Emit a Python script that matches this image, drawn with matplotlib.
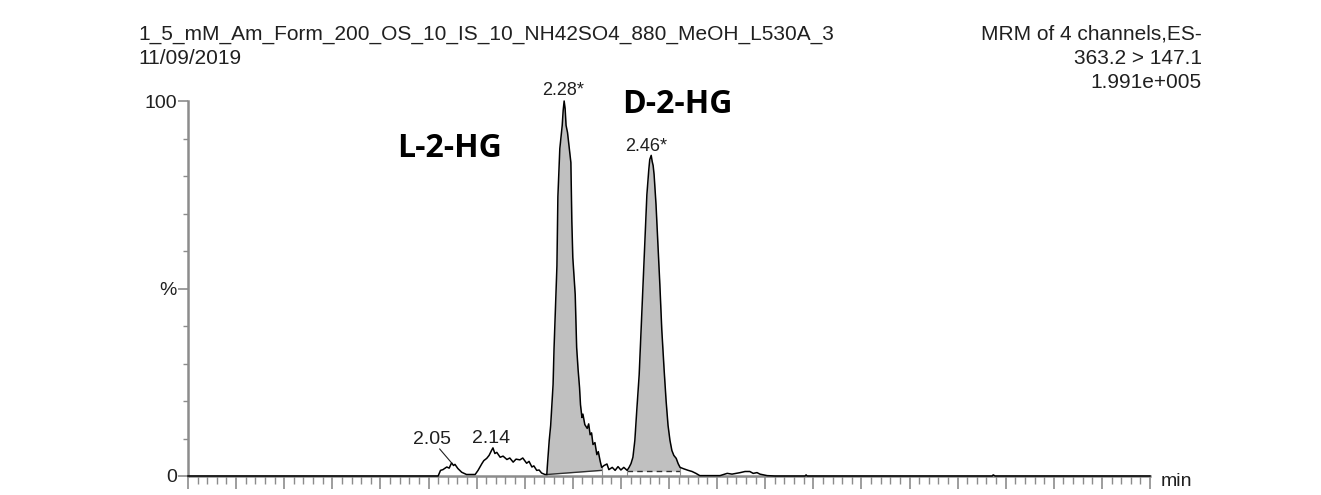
import numpy as np
import matplotlib
matplotlib.use("Agg")
import matplotlib.pyplot as plt
from matplotlib.ticker import MultipleLocator

# ---- data (time in min, intensity in %) ----
time_min = [1.500, 2.020, 2.025, 2.030, 2.038, 2.043, 2.048, 2.052, 2.055, 2.061, 2.069, 2.079,
            2.097, 2.103, 2.111, 2.115, 2.121, 2.126, 2.131, 2.134, 2.138, 2.142, 2.149, 2.155,
            2.163, 2.169, 2.176, 2.182, 2.190, 2.196, 2.204, 2.209, 2.215, 2.219, 2.225, 2.230,
            2.235, 2.242, 2.246,
            2.247, 2.251, 2.254, 2.259, 2.261, 2.265, 2.267, 2.269, 2.273, 2.278, 2.280, 2.282,
            2.284, 2.286, 2.289, 2.292, 2.296, 2.298, 2.300, 2.305, 2.308, 2.311, 2.314, 2.316,
            2.319, 2.321, 2.325, 2.330, 2.333, 2.336, 2.339, 2.342, 2.346, 2.350, 2.353, 2.357,
            2.360, 2.365, 2.371, 2.375, 2.382, 2.388, 2.394, 2.400, 2.406, 2.413, 2.417, 2.421,
            2.425, 2.429, 2.433, 2.438, 2.442, 2.446, 2.450, 2.454, 2.458, 2.460, 2.463, 2.465,
            2.467, 2.469, 2.473, 2.477, 2.481, 2.485, 2.490, 2.494, 2.498, 2.502, 2.506, 2.510,
            2.515, 2.519, 2.523, 2.531, 2.540, 2.548, 2.556, 2.564, 2.606, 2.621, 2.631, 2.648,
            2.658, 2.668, 2.675, 2.683, 2.689, 2.704, 2.720, 2.783, 2.785, 2.787, 3.172, 3.174,
            3.178, 3.500]
intensity_pct = [0.0, 0.0, 1.5, 1.7, 2.4, 2.1, 3.5, 2.8, 3.1, 2.0, 1.0, 0.4,
                 0.4, 1.5, 3.3, 4.1, 4.7, 5.5, 6.8, 7.5, 6.0, 6.3, 5.0, 5.3,
                 4.4, 4.8, 3.7, 4.5, 4.3, 4.8, 3.4, 3.9, 2.4, 2.7, 1.5, 1.6,
                 0.8, 0.4, 0.4,
                 2.5, 9.5, 13.5, 24.4, 34.0, 48.4, 56.0, 74.5, 87.3, 93.5, 97.5, 100.0,
                 98.0, 93.5, 91.6, 88.1, 83.6, 67.9, 58.3, 48.4, 34.3, 28.4, 23.6, 19.0,
                 15.6, 16.5, 13.7, 12.7, 13.9, 11.0, 11.5, 8.4, 8.9, 5.7, 6.5, 3.9,
                 2.3, 2.8, 3.2, 1.7, 2.3, 1.5, 2.5, 1.6, 2.3, 1.5, 2.3, 3.3,
                 5.0, 9.5, 17.5, 27.0, 39.0, 51.0, 63.0, 75.0, 81.7, 84.4, 85.5, 83.9,
                 82.8, 80.4, 72.4, 61.7, 51.0, 39.0, 28.0, 20.0, 13.5, 9.5, 6.8, 5.5,
                 4.7, 3.3, 2.3, 1.9, 1.5, 1.2, 0.7, 0.1, 0.1, 0.7, 0.5, 0.9,
                 1.2, 1.2, 0.7, 0.9, 0.5, 0.1, 0.0, 0.0, 0.3, 0.0, 0.0, 0.3,
                 0.0, 0.0]

# integrated peaks: start/end time and baseline level (%)
peak_start = [2.246, 2.413]
peak_end = [2.360, 2.523]
peak_base_start = [0.4, 1.3]
peak_base_end = [1.5, 1.3]

# peak labels: (text, time, intensity)
label_text = ["2.05", "2.14", "2.28*", "2.46*"]
label_time = [2.048, 2.134, 2.282, 2.463]
label_int = [3.5, 7.5, 100.0, 85.5]

header_left = ["1_5_mM_Am_Form_200_OS_10_IS_10_NH42SO4_880_MeOH_L530A_3", "11/09/2019"]
header_right = ["MRM of 4 channels,ES-", "363.2 > 147.1", "1.991e+005"]

# ---------------------------------------------------------------------
W, H = 1321, 495
fig = plt.figure(figsize=(W / 100, H / 100), dpi=100)
fig.patch.set_facecolor("white")

def fx(px):
    return px / W

def fy(py):
    return 1 - py / H

small_font = "Liberation Sans"
big_font = "Open Sans"
txt_col = "#202020"

ax = fig.add_axes([fx(188), fy(476), (1150 - 188) / W, (476 - 101) / H])
ax.set_xlim(1.5, 3.5)
ax.set_ylim(0, 100)

t = np.array(time_min)
y = np.array(intensity_pct)

# filled integrated peaks
for s, e, b0, b1 in zip(peak_start, peak_end, peak_base_start, peak_base_end):
    m = (t >= s) & (t <= e)
    base = np.interp(t[m], [s, e], [b0, b1])
    ax.fill_between(t[m], base, y[m], color="#c0c0c0", linewidth=0, zorder=1)
for i, (s, e, b0, b1) in enumerate(zip(peak_start, peak_end, peak_base_start, peak_base_end)):
    ls = "-" if i == 0 else (0, (4, 3))
    ax.plot([s, e], [b0, b1], color="#303030", lw=1.0, ls=ls, zorder=2, clip_on=False)
    ax.plot([s, s], [0, np.interp(s, t, y)], color="#909090", lw=0.8, zorder=2)
    ax.plot([e, e], [0, np.interp(e, t, y)], color="#909090", lw=0.8, zorder=2)

ax.plot(t, y, color="black", lw=1.1, zorder=3, clip_on=False)

# spines and ticks
for side in ["top", "right"]:
    ax.spines[side].set_visible(False)
for side in ["left", "bottom"]:
    ax.spines[side].set_color("#8c8c8c")
    ax.spines[side].set_linewidth(1.8)

ax.xaxis.set_major_locator(MultipleLocator(0.1))
ax.xaxis.set_minor_locator(MultipleLocator(0.02))
ax.tick_params(axis="x", which="major", direction="out", length=9, width=1.2,
               color="#8c8c8c", labelbottom=False)
ax.tick_params(axis="x", which="minor", direction="out", length=5.5, width=1.0,
               color="#8c8c8c")
ax.set_yticks([0, 50, 100])
ax.set_yticklabels(["0", "%", "100"], fontsize=14, family=small_font, color=txt_col)
ax.yaxis.set_minor_locator(MultipleLocator(10))
ax.tick_params(axis="y", which="major", direction="out", length=7, width=1.2,
               color="#8c8c8c", pad=1)
ax.tick_params(axis="y", which="minor", direction="out", length=3.5, width=1.0,
               color="#8c8c8c")

# peak labels (offsets in pixels from the apex)
lbl_offsets = {"2.05": (-20, 19), "2.14": (-1.5, 5), "2.28*": (-1.5, 6), "2.46*": (-5.5, 4)}
lbl_sizes = {"2.05": 14, "2.14": 14, "2.28*": 13, "2.46*": 13}
for txt, tt, ii in zip(label_text, label_time, label_int):
    dx, dy = lbl_offsets[txt]
    ax.annotate(txt, xy=(tt, ii), xytext=(dx, dy), textcoords="offset pixels",
                ha="center", va="baseline", fontsize=lbl_sizes[txt], family=small_font,
                color=txt_col, annotation_clip=False)
# leader line for 2.05
ax.annotate("", xy=(label_time[0], label_int[0]), xytext=(-12, 14),
            textcoords="offset pixels",
            arrowprops=dict(arrowstyle="-", color=txt_col, lw=0.8,
                            shrinkA=0, shrinkB=0))

# compound labels
fig.text(fx(397), fy(157), "L-2-HG", fontsize=23, fontweight="bold",
         family=big_font, ha="left", va="baseline")
fig.text(fx(622), fy(113), "D-2-HG", fontsize=23, fontweight="bold",
         family=big_font, ha="left", va="baseline")

# headers
for i, s in enumerate(header_left):
    fig.text(fx(138), fy(40 + 24 * i), s, fontsize=15, family=small_font,
             color=txt_col, ha="left", va="baseline")
for i, s in enumerate(header_right):
    fig.text(fx(1202), fy(40 + 24 * i), s, fontsize=15, family=small_font,
             color=txt_col, ha="right", va="baseline")

fig.text(fx(1161), fy(481), "min", fontsize=14, family=small_font,
         color=txt_col, ha="left", va="center")

fig.savefig("out.png", dpi=100, facecolor="white")
